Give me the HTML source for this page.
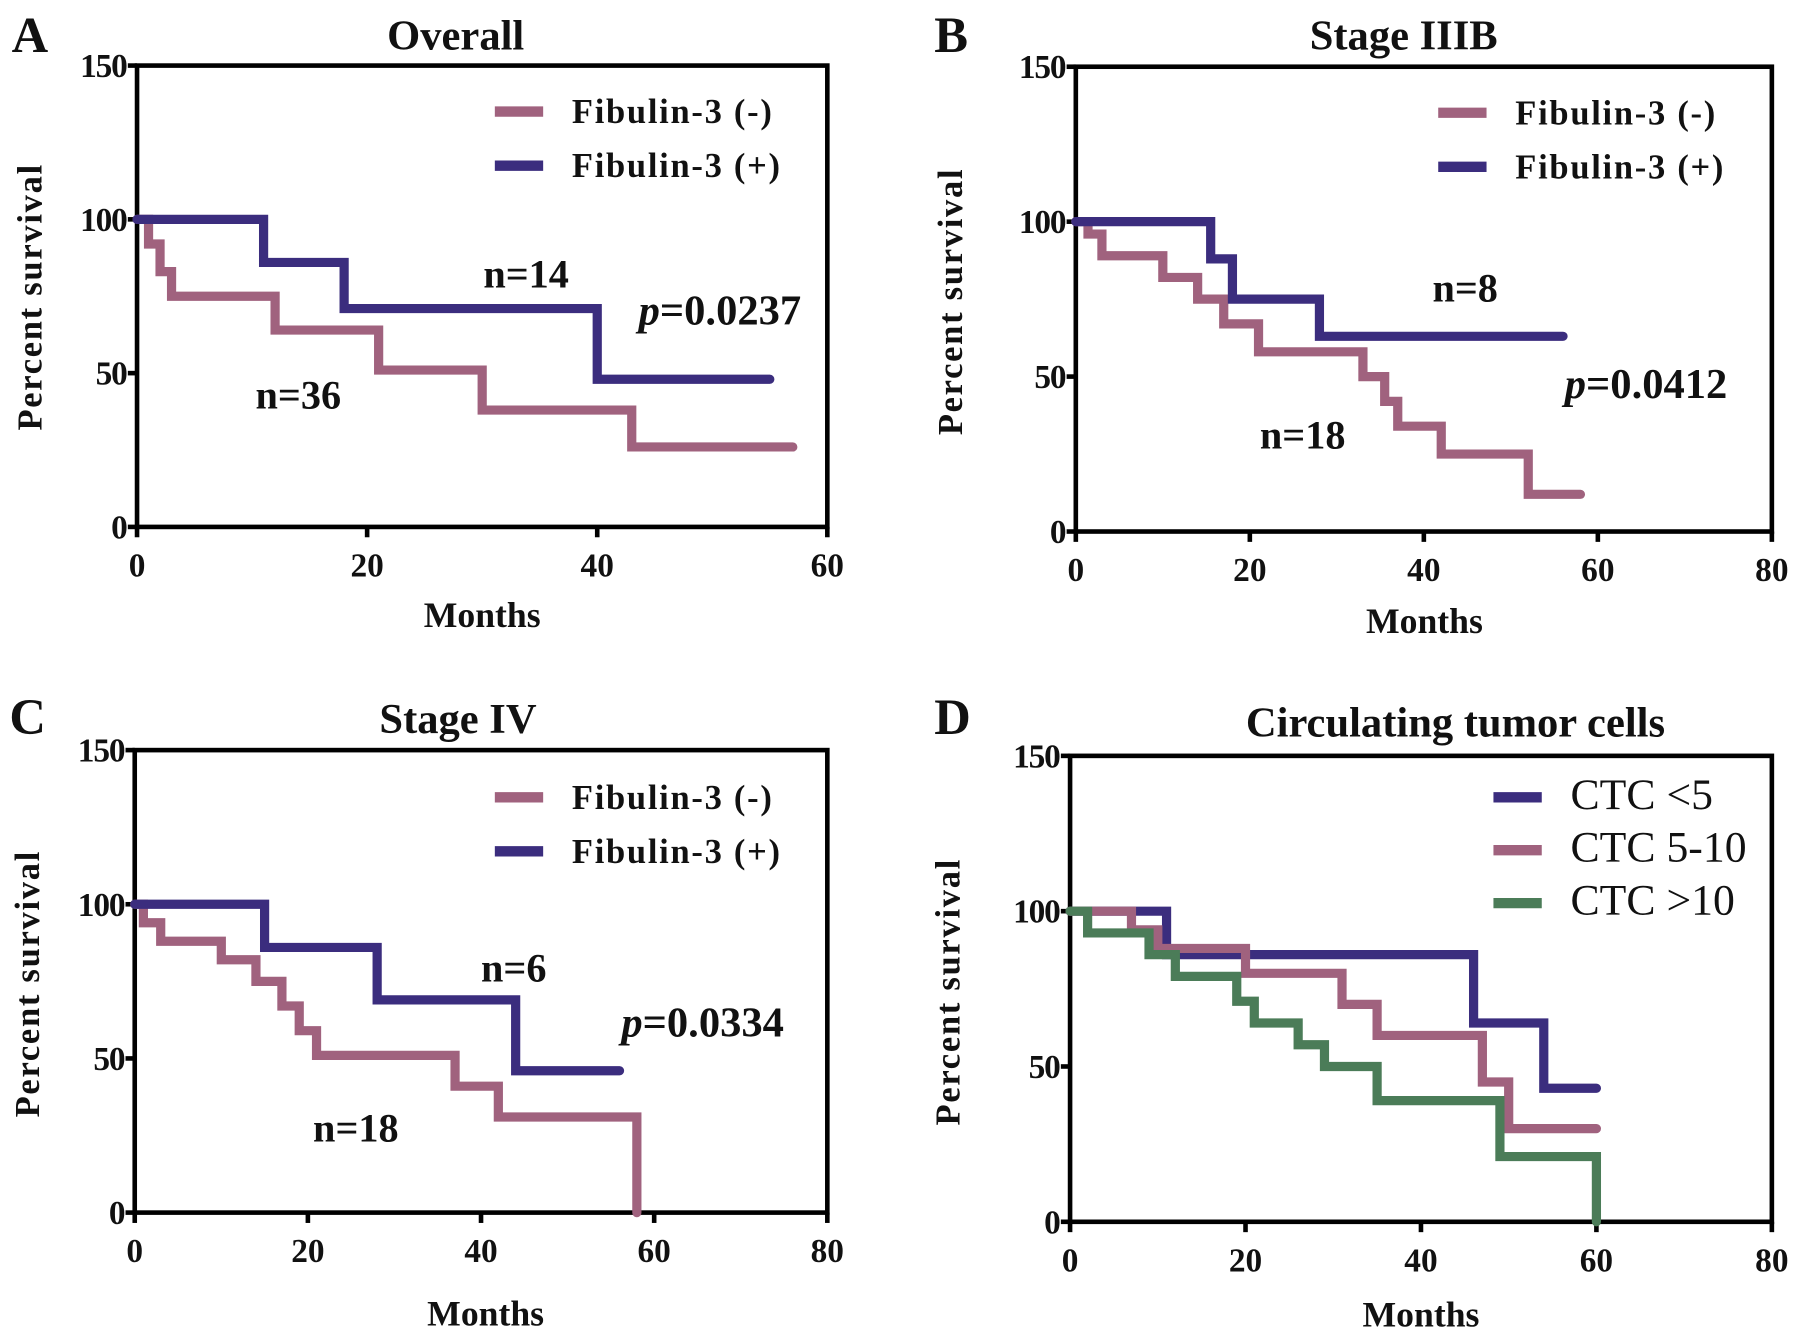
<!DOCTYPE html>
<html><head><meta charset="utf-8"><style>
html,body{margin:0;padding:0;background:#fff;}
svg{display:block;}
text{font-family:"Liberation Serif",serif;font-weight:bold;fill:#111;}
</style></head><body>
<svg id="fig" width="1795" height="1338" viewBox="0 0 1560 1163" xmlns="http://www.w3.org/2000/svg"></svg>
<script>
const yTicks=[0,50,100,150];
const xTicksA=[0,20,40,60];
const xTicksB=[0,20,40,60,80];
// Panel A
const aMinusT=[0,1,2,3,12,21,30,43,57];
const aMinusS=[100,92,83,75,64,51,38,26,26];
const aPlusT=[0,11,18,40,55];
const aPlusS=[100,86,71,48,48];
// Panel B
const bMinusT=[0,1.4,3,10,14,17,21,33,35.5,37,42,52,58];
const bMinusS=[100,96,89,82,75,67,58,50,42,34,25,12,12];
const bPlusT=[0,15.5,18,28,56];
const bPlusS=[100,88,75,63,63];
// Panel C
const cMinusT=[0,1,3,10,14,17,19,21,37,42,58,58];
const cMinusS=[100,94,88,82,75,67,59,51,41,31,0,0];
const cPlusT=[0,15,28,44,56];
const cPlusS=[100,86,69,46,46];
// Panel D
const dLowT=[0,11,46,54,60];
const dLowS=[100,86,64,43,43];
const dMidT=[0,7,10,20,31,35,47,50,60];
const dMidS=[100,94,88,80,70,60,45,30,30];
const dHighT=[0,2,9,12,19,21,26,29,35,49,60,60];
const dHighS=[100,93,86,79,71,64,57,50,39,21,0,0];

const PINK="#a0627e",PURP="#3b2d7e",GREEN="#4b7c58";
const svg=document.getElementById('fig');
const NS="http://www.w3.org/2000/svg";
function mk(tag,attrs,parent){const e=document.createElementNS(NS,tag);for(const k in attrs)e.setAttribute(k,attrs[k]);(parent||svg).appendChild(e);return e;}
function txt(s,x,y,size,parent,anchor,extra){const t=mk('text',Object.assign({x:x,y:y,'font-size':size,'text-anchor':anchor||'start'},extra||{}),parent);t.textContent=s;return t;}

function panel(id,box,xMax,xTicks,series,labels){
  const g=mk('g',{});
  
  
  const X=v=>box.x0+(box.x1-box.x0)*v/xMax;
  const Y=v=>box.y0+(box.y1-box.y0)*v/150;
  const frame=mk('rect',{x:box.x0,y:box.y1,width:box.x1-box.x0,height:box.y0-box.y1,fill:'none',stroke:'#000','stroke-width':4},g);
  
  
  yTicks.forEach(v=>{
    const l=mk('line',{x1:box.x0-8,x2:box.x0,y1:Y(v),y2:Y(v),stroke:'#000','stroke-width':4},g);
    
    
    const t=txt(String(v),box.x0-9,Y(v)+10,29,g,'end',{'letter-spacing':'-1'});
    
    
  });
  xTicks.forEach(v=>{
    const l=mk('line',{x1:X(v),x2:X(v),y1:box.y0,y2:box.y0+9,stroke:'#000','stroke-width':4},g);
    
    
    const t=txt(String(v),X(v),box.y0+43,29,g,'middle');
    
    
  });
  series.forEach(s=>{
    let d='M'+X(s.t[0])+','+Y(s.s[0]);
    for(let i=1;i<s.t.length;i++){d+=' H'+X(s.t[i])+' V'+Y(s.s[i]);}
    const p=mk('path',{d:d,fill:'none',stroke:s.c,'stroke-width':8,'stroke-linejoin':'miter','stroke-linecap':'round'},g);
    
    
  });
  labels(g);
}

function legend(g,items,x,y,gap,size,bold,ls){
  items.forEach((it,i)=>{
    const l=mk('line',{x1:x,x2:x+42,y1:y+i*gap,y2:y+i*gap,stroke:it.c,'stroke-width':9},g);
    
    
    const t=txt(it.n,x+67,y+i*gap+10,size,g,'start',{style:'font-weight:'+(bold?'bold':'normal'),'letter-spacing':ls});
    
    
  });
}
function common(g,letter,lx,ly,title,tx,ty,yx,yy,mx,my){
  let t=txt(letter,lx,ly,44,g);
  t=txt(title,tx,ty,37,g,'middle',{'xml:space':'preserve'});
  t=txt('Percent survival',0,0,30,g,'middle',{transform:'translate('+yx+','+yy+') rotate(-90)','letter-spacing':'1.5'});
  t=txt('Months',mx,my,31,g,'middle');
}
function ann(g,s,x,y,name){const t=txt(s,x,y,35,g);return t;}
function pval(g,v,x,y){const t=mk('text',{x:x,y:y,'font-size':37},g);
  const a=mk('tspan',{'font-style':'italic'},t);a.textContent='p';const b=mk('tspan',{},t);b.textContent='='+v;}
const fib=[{n:'Fibulin-3 (-)',c:PINK},{n:'Fibulin-3 (+)',c:PURP}];

panel('a',{x0:119,x1:719,y0:458,y1:57},60,xTicksA,
 [{t:aMinusT,s:aMinusS,c:PINK,n:'fibulin-neg'},{t:aPlusT,s:aPlusS,c:PURP,n:'fibulin-pos'}],g=>{
 common(g,'A',10,45,'Overall',396,43,36,258,419,545);
 legend(g,fib,430,97,47,30,true,'1.5');
 ann(g,'n=14',420,250,'n-label-pos');ann(g,'n=36',222,355,'n-label-neg');pval(g,'0.0237',555,282);
});
panel('b',{x0:935,x1:1540,y0:462,y1:58},80,xTicksB,
 [{t:bMinusT,s:bMinusS,c:PINK,n:'fibulin-neg'},{t:bPlusT,s:bPlusS,c:PURP,n:'fibulin-pos'}],g=>{
 common(g,'B',812,45,'Stage IIIB',1220,43,836,262,1238,550);
 legend(g,fib,1250,98,47,30,true,'1.5');
 ann(g,'n=8',1245,262,'n-label-pos');ann(g,'n=18',1095,390,'n-label-neg');pval(g,'0.0412',1360,346);
});
panel('c',{x0:117,x1:719,y0:1054,y1:652},80,xTicksB,
 [{t:cMinusT,s:cMinusS,c:PINK,n:'fibulin-neg'},{t:cPlusT,s:cPlusS,c:PURP,n:'fibulin-pos'}],g=>{
 common(g,'C',8,638,'Stage  IV',398,637,34,855,422,1152);
 legend(g,fib,430,693,47,30,true,'1.5');
 ann(g,'n=6',418,853,'n-label-pos');ann(g,'n=18',272,992,'n-label-neg');pval(g,'0.0334',540,901);
});
panel('d',{x0:930,x1:1540,y0:1062,y1:657},80,xTicksB,
 [{t:dLowT,s:dLowS,c:PURP,n:'ctc-lt5'},{t:dMidT,s:dMidS,c:PINK,n:'ctc-5-10'},{t:dHighT,s:dHighS,c:GREEN,n:'ctc-gt10'}],g=>{
 common(g,'D',812,638,'Circulating tumor cells',1265,640,834,862,1235,1153);
 legend(g,[{n:'CTC <5',c:PURP},{n:'CTC 5-10',c:PINK},{n:'CTC >10',c:GREEN}],1298,693,46,38,false,'0');
});
</script>
</body></html>
